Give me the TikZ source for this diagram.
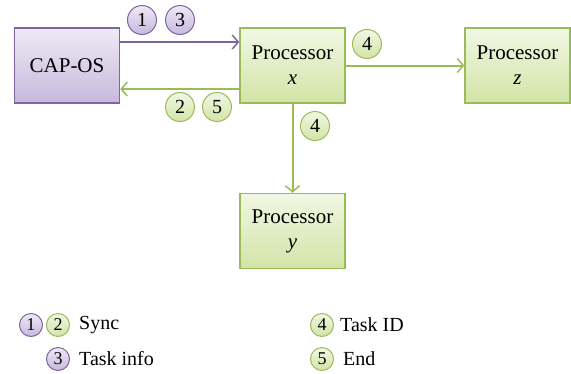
\documentclass[tikz,border=0pt]{standalone}
\usepackage{fontspec}
\setmainfont{Liberation Serif}
\usetikzlibrary{arrows.meta}
\definecolor{pborder}{HTML}{8064A2}
\definecolor{ptop}{HTML}{EEEAF5}
\definecolor{pbot}{HTML}{C7B8DD}
\definecolor{gborder}{HTML}{9BBB59}
\definecolor{gtop}{HTML}{F1F7E4}
\definecolor{gbot}{HTML}{D2E4A6}
\tikzset{
  box/.style={draw, line width=1.5pt, minimum width=105pt, minimum height=75pt, align=center, inner sep=0pt, font=\fontsize{21}{25}\selectfont},
  pbox/.style={box, draw=pborder, top color=ptop, bottom color=pbot},
  gbox/.style={box, draw=gborder, top color=gtop, bottom color=gbot},
  num/.style={circle, line width=1pt, minimum size=29pt, inner sep=0pt, font=\fontsize{20}{20}\selectfont},
  pnum/.style={num, draw=pborder, top color=ptop, bottom color=pbot},
  gnum/.style={num, draw=gborder, top color=gtop, bottom color=gbot},
  lnum/.style={minimum size=23pt, font=\fontsize{18}{18}\selectfont},
  arr/.style={line width=2pt, -{Straight Barb[length=6pt,width=14pt,line width=1.5pt]}},
  legtext/.style={anchor=west, inner sep=0pt, font=\fontsize{20}{20}\selectfont},
}
\begin{document}
\begin{tikzpicture}[x=1pt, y=-1pt]
\useasboundingbox (0,0) rectangle (571,373);
\node[pbox] (cap) at (67,65.5) {CAP-OS};
\node[gbox] (px) at (292.5,65.5) {Processor\\\textit{x}};
\node[gbox] (pz) at (517.5,65.5) {Processor\\\textit{z}};
\node[gbox] (py) at (292.5,231) {Processor\\\textit{y}};

\draw[arr, pborder] ([yshift=23.5pt]cap.east) -- ([yshift=23.5pt]px.west);
\draw[arr, gborder] ([yshift=-23.5pt]px.west) -- ([yshift=-23.5pt]cap.east);
\draw[arr, gborder] (px.east) -- (pz.west);
\draw[arr, gborder] (px.south) -- (py.north);

\node[pnum] (c1) at (142,20) {1};
\node[pnum] (c3) at (180,20) {3};
\node[gnum] (c2) at (180,107) {2};
\node[gnum] (c5) at (217,107) {5};
\node[gnum] (c4a) at (367,44) {4};
\node[gnum] (c4b) at (315,126) {4};

\node[pnum, lnum] (l1) at (31,325) {1};
\node[gnum, lnum] (l2) at (58,325) {2};
\node[legtext] (t12) at (79,325) {Sync};
\node[pnum, lnum] (l3) at (58,359) {3};
\node[legtext] (t3) at (79,359) {Task info};
\node[gnum, lnum] (l4) at (322,325) {4};
\node[legtext] (t4) at (340,325) {Task ID};
\node[gnum, lnum] (l5) at (322,359) {5};
\node[legtext] (t5) at (343,359) {End};
\end{tikzpicture}
\end{document}
